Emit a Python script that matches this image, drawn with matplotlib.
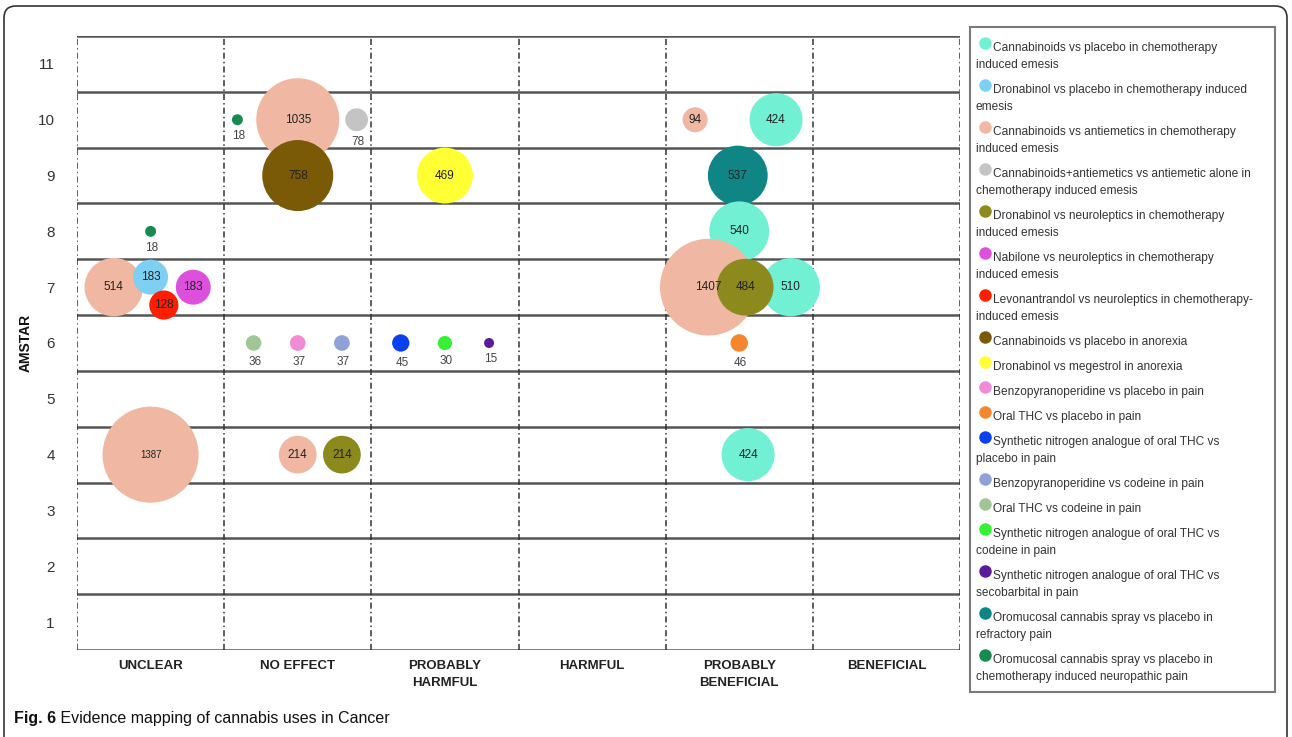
import matplotlib
matplotlib.use("Agg")
import matplotlib.pyplot as plt
from matplotlib.patches import FancyBboxPatch, Rectangle

plt.rcParams['font.family'] = ['Liberation Sans', 'DejaVu Sans']

# effect categories (x axis) and AMSTAR scores (y axis)
categories = ["UNCLEAR", "NO EFFECT", "PROBABLY\nHARMFUL", "HARMFUL",
              "PROBABLY\nBENEFICIAL", "BENEFICIAL"]
amstar_ticks = [1, 2, 3, 4, 5, 6, 7, 8, 9, 10, 11]

# comparisons (legend)
series_labels = [
    "Cannabinoids vs placebo in chemotherapy\ninduced emesis",
    "Dronabinol vs placebo in chemotherapy induced\nemesis",
    "Cannabinoids vs antiemetics in chemotherapy\ninduced emesis",
    "Cannabinoids+antiemetics vs antiemetic alone in\nchemotherapy induced emesis",
    "Dronabinol vs neuroleptics in chemotherapy\ninduced emesis",
    "Nabilone vs neuroleptics in chemotherapy\ninduced emesis",
    "Levonantrandol vs neuroleptics in chemotherapy-\ninduced emesis",
    "Cannabinoids vs placebo in anorexia",
    "Dronabinol vs megestrol in anorexia",
    "Benzopyranoperidine vs placebo in pain",
    "Oral THC vs placebo in pain",
    "Synthetic nitrogen analogue of oral THC vs\nplacebo in pain",
    "Benzopyranoperidine vs codeine in pain",
    "Oral THC vs codeine in pain",
    "Synthetic nitrogen analogue of oral THC vs\ncodeine in pain",
    "Synthetic nitrogen analogue of oral THC vs\nsecobarbital in pain",
    "Oromucosal cannabis spray vs placebo in\nrefractory pain",
    "Oromucosal cannabis spray vs placebo in\nchemotherapy induced neuropathic pain",
]
series_colors = [
    "#72F0D4", "#7DD0F2", "#F0B8A2", "#C4C4C4", "#8C8A1C", "#DC50DC",
    "#FF1E00", "#7A5A06", "#FFFF33", "#F08CD6", "#F4862E", "#0A40F0",
    "#8FA2D8", "#9FC694", "#36F036", "#5A1C9C", "#0F8585", "#178A52",
]

# bubbles: effect category, place within column, AMSTAR, participants, comparison
b_effect = [0, 0, 0, 0, 0, 0,
            1, 1, 1, 1, 1, 1, 1, 1, 1,
            2, 2, 2, 2,
            4, 4, 4, 4, 4, 4, 4, 4, 4]
b_place = [0.25, 0.50, 0.59, 0.79, 0.50, 0.50,
           0.09, 0.50, 0.90, 0.50, 0.20, 0.50, 0.80, 0.50, 0.80,
           0.50, 0.20, 0.50, 0.80,
           0.20, 0.75, 0.49, 0.50, 0.29, 0.85, 0.54, 0.50, 0.56]
b_amstar = [7.0, 7.18, 6.68, 7.0, 8.0, 4.0,
            10, 10, 10, 9, 6, 6, 6, 4, 4,
            9, 6, 6, 6,
            10, 10, 9, 8, 7, 7, 7, 6, 4]
b_n = [514, 183, 128, 183, 18, 1387,
       18, 1035, 78, 758, 36, 37, 37, 214, 214,
       469, 45, 30, 15,
       94, 424, 537, 540, 1407, 510, 484, 46, 424]
b_series = [2, 1, 6, 5, 17, 2,
            17, 2, 3, 7, 13, 9, 12, 2, 4,
            8, 11, 14, 15,
            2, 0, 16, 0, 2, 0, 4, 10, 0]

W, H = 1292, 737
fig = plt.figure(figsize=(W / 100, H / 100), dpi=100)

# background axes in pixel units: frame, caption, legend
bg = fig.add_axes([0, 0, 1, 1], zorder=0)
bg.set_xlim(0, W)
bg.set_ylim(H, 0)
bg.axis("off")
bg.add_patch(FancyBboxPatch((4, 6), 1283, 780, boxstyle="round,pad=0,rounding_size=12",
                            fc="white", ec="#333333", lw=1.2))

t1 = bg.text(14, 718, "Fig. 6", fontsize=11.5, fontweight="bold", color="#111111",
             va="center", ha="left")
bg.annotate(" Evidence mapping of cannabis uses in Cancer", xy=(1, 0.5), xycoords=t1,
            va="center", ha="left", fontsize=11.5, color="#111111")

# legend box
bg.add_patch(Rectangle((970, 27), 305, 665, fc="white", ec="#7a7a7a", lw=1.5))
y = 48
for lab, col in zip(series_labels, series_colors):
    lines = lab.split("\n")
    bg.plot(985, y - 5, "o", ms=9, color=col, mec="none")
    bg.text(993, y, lines[0], fontsize=8.6, color="#333333", va="center", ha="left")
    for k, ln in enumerate(lines[1:]):
        bg.text(976, y + 17 * (k + 1), ln, fontsize=8.6, color="#333333",
                va="center", ha="left")
    y += 25 + 17 * (len(lines) - 1)

# main plot
ax = fig.add_axes([77 / W, 1 - 650 / H, 883 / W, 614 / H], zorder=2)
ax.set_facecolor("none")
ax.set_xlim(0, len(categories))
ax.set_ylim(0.5, 11.5)
for s in ax.spines.values():
    s.set_visible(False)

for yy in range(12):
    ax.axhline(yy + 0.5, color="#555555", lw=1.8, zorder=1)
for xx in range(len(categories) + 1):
    ax.axvline(xx, color="#333333", lw=1.1, ls=(0, (4, 2, 1, 2)), zorder=1)

xs = [e + p for e, p in zip(b_effect, b_place)]
for i in range(len(b_n)):
    ax.scatter(xs[i], b_amstar[i], s=3.45 * b_n[i], color=series_colors[b_series[i]],
               edgecolors="none", zorder=3 + i)
    r_pt = (3.45 * b_n[i]) ** 0.5 / 2
    if b_n[i] < 90:
        ax.annotate(str(b_n[i]), (xs[i], b_amstar[i]), xytext=(1, -(r_pt + 8)),
                    textcoords="offset points", ha="center", va="center",
                    fontsize=8.5, color="#444444", zorder=40)
    else:
        # the 1387 label is printed smaller in the original
        ax.text(xs[i], b_amstar[i], str(b_n[i]), ha="center", va="center",
                fontsize=7 if i == 5 else 8.5, color="#222222", zorder=40)

ax.set_yticks(amstar_ticks)
ax.set_yticklabels([str(v) for v in amstar_ticks], fontsize=11, color="#333333")
ax.set_xticks([i + 0.5 for i in range(len(categories))])
ax.set_xticklabels(categories, fontsize=9.5, fontweight="bold", color="#222222",
                   linespacing=1.6)
ax.tick_params(axis="both", length=0)
ax.tick_params(axis="y", pad=16)
ax.tick_params(axis="x", pad=7)
ax.set_ylabel("AMSTAR", fontsize=10, fontweight="bold", color="#111111", labelpad=4)

fig.savefig("out.png", dpi=100)
